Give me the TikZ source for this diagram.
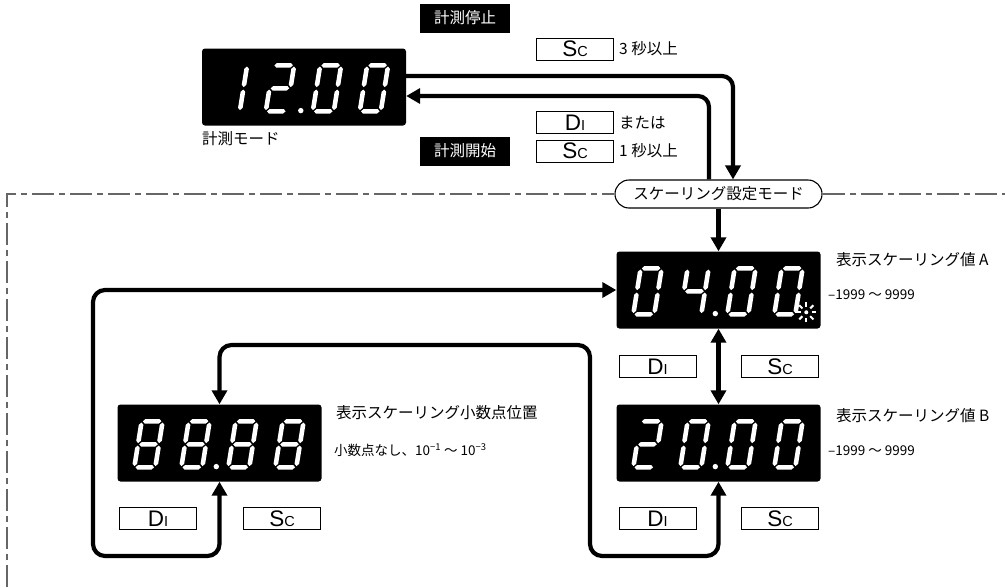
\documentclass[tikz,border=0pt]{standalone}
\usepackage{fontspec}
\setmainfont{Noto Sans CJK JP}
\newfontfamily\btnfont{Liberation Sans}
\usetikzlibrary{arrows.meta,calc}
\newcommand\jpfont{\fontsize{15.5}{18}\selectfont}
\newcommand\smfont{\fontsize{13.5}{15}\selectfont}
\newcommand\BtnDi{{\fontsize{22.5}{22}\selectfont D\fontsize{14.5}{14}\selectfont I}}
\newcommand\BtnSc{{\fontsize{22.5}{22}\selectfont S\fontsize{14.5}{14}\selectfont C}}
% seven-segment pieces (local frame, y up, W=21, H=46)
\def\zzsegA{\fill (1.2,46)--(3.5,48.3)--(17.5,48.3)--(19.8,46)--(17.5,43.7)--(3.5,43.7)--cycle;}
\def\zzsegG{\fill (1.2,23)--(3.5,25.3)--(17.5,25.3)--(19.8,23)--(17.5,20.7)--(3.5,20.7)--cycle;}
\def\zzsegD{\fill (1.2,0)--(3.5,2.3)--(17.5,2.3)--(19.8,0)--(17.5,-2.3)--(3.5,-2.3)--cycle;}
\def\zzsegF{\fill (0,24.2)--(2.3,26.5)--(2.3,42.5)--(0,44.8)--(-2.3,42.5)--(-2.3,26.5)--cycle;}
\def\zzsegE{\fill (0,1.2)--(2.3,3.5)--(2.3,19.5)--(0,21.8)--(-2.3,19.5)--(-2.3,3.5)--cycle;}
\def\zzsegB{\fill (21,24.2)--(23.3,26.5)--(23.3,42.5)--(21,44.8)--(18.7,42.5)--(18.7,26.5)--cycle;}
\def\zzsegC{\fill (21,1.2)--(23.3,3.5)--(23.3,19.5)--(21,21.8)--(18.7,19.5)--(18.7,3.5)--cycle;}
\newcommand\sdig[3]{\begin{scope}[shift={(#1,#2)},x=1pt,y=1pt,xslant=0.16,fill=white]\foreach \s in {#3}{\csname zzseg\s\endcsname}\end{scope}}
\newcommand\dispnum[5]{%
  \begin{scope}[shift={(#1.north west)}]
    \sdig{17}{63}{#2}\sdig{64}{63}{#3}\sdig{111}{63}{#4}\sdig{158}{63}{#5}
    \fill[white] (99,62.3) circle (2.7pt);
  \end{scope}}
\begin{document}
\begin{tikzpicture}[x=1pt,y=-1pt,
  disp/.style={fill=black, rounded corners=3pt, minimum width=204pt, minimum height=77pt, inner sep=0pt},
  btn/.style={draw=black, line width=0.9pt, fill=white, minimum width=77pt, minimum height=22pt, inner sep=0pt, font=\btnfont},
  tag/.style={fill=black, text=white, minimum width=90pt, minimum height=29pt, inner sep=0pt, font=\jpfont},
  lbl/.style={anchor=west, inner sep=0pt, font=\jpfont},
  rng/.style={anchor=west, inner sep=0pt, font=\smfont},
  arr/.style={line width=4.2pt, rounded corners=11pt, -{Triangle[length=14pt,width=15pt]}},
  darr/.style={line width=4.2pt, rounded corners=12pt, {Triangle[length=14pt,width=15pt]}-{Triangle[length=14pt,width=15pt]}},
  border/.style={draw=black!60, line width=1.3pt, dash pattern=on 22pt off 5pt on 6pt off 5pt},
  pill/.style={draw=black, line width=1.1pt, fill=white, rounded corners=14pt, minimum width=207pt, minimum height=28pt, inner sep=0pt, font=\jpfont}
]
\useasboundingbox (0,0) rectangle (1005,587);

% displays
\node[disp] (d1) at (304,87) {};
\node[disp] (A) at (718.5,290) {};
\node[disp] (B) at (718.5,443) {};
\node[disp] (C) at (219.5,443) {};
\dispnum{d1}{B,C}{A,B,G,E,D}{A,B,C,D,E,F}{A,B,C,D,E,F}
\dispnum{A}{A,B,C,D,E,F}{F,G,B,C}{A,B,C,D,E,F}{A,B,C,D,E,F}
\dispnum{B}{A,B,G,E,D}{A,B,C,D,E,F}{A,B,C,D,E,F}{A,B,C,D,E,F}
\dispnum{C}{A,B,C,D,E,F,G}{A,B,C,D,E,F,G}{A,B,C,D,E,F,G}{A,B,C,D,E,F,G}
% blinking mark on A
\begin{scope}[shift={(A.north west)}]
  \fill[white] (190,61) circle (2pt);
  \foreach \a in {0,45,...,315}
    \draw[white, line width=2pt] (190,61) ++(\a:5.5) -- ++(\a:4.5);
\end{scope}

% mode pill and border
\node[pill] (mode) at (718.5,194) {スケーリング設定モード};
\coordinate (bl) at (7,587);
\coordinate (tl) at (7,194);
\coordinate (tr) at (1005,194);
\draw[border] (bl) -- (tl) -- (mode.west);
\draw[border] (mode.east) -- (tr);

% labels
\node[lbl] (lm) at (202,139) {計測モード};
\node[tag] (stop) at (465,18) {計測停止};
\node[tag] (start) at (465,151) {計測開始};
\node[btn] (sc1) at (575,49) {\BtnSc};
\node[lbl] (t3) at (619,49) {3 秒以上};
\node[btn] (di1) at (575,122.5) {\BtnDi};
\node[lbl] (tm) at (619,122.5) {または};
\node[btn] (sc2) at (575,151) {\BtnSc};
\node[lbl] (t1) at (619,151) {1 秒以上};

\node[lbl] (la) at (836,260) {表示スケーリング値 A};
\node[rng] (ra) at (828,295) {–1999 ～ 9999};
\node[lbl] (lb) at (836,416) {表示スケーリング値 B};
\node[rng] (rb) at (828,451) {–1999 ～ 9999};
\node[lbl] (lc) at (336,413) {表示スケーリング小数点位置};
\node[rng] (rc) at (334,450) {小数点なし、10\textsuperscript{−1} ～ 10\textsuperscript{−3}};

% buttons
\node[btn] (diab) at (657.5,366.5) {\BtnDi};
\node[btn] (scab) at (780,366.5) {\BtnSc};
\node[btn] (dib) at (657.5,518.5) {\BtnDi};
\node[btn] (scb) at (780,518.5) {\BtnSc};
\node[btn] (dic) at (158,518.5) {\BtnDi};
\node[btn] (scc) at (282,518.5) {\BtnSc};

% connectors
\draw[arr] ($(d1.east)+(0,-11)$) -| ($(mode.north)+(14.5,0)$);
\draw[arr] ($(mode.north)+(-9.5,0)$) |- ($(d1.east)+(0,9)$);
\draw[arr] (mode.south) -- (A.north);
\draw[darr] (A.south) -- (B.north);
\coordinate (r1) at (590,345);
\coordinate (r2) at (590,556);
\draw[darr] (C.north) |- (r1) -- (r2) -| (B.south);
\coordinate (l1) at (93,556);
\coordinate (l2) at (93,290);
\draw[darr] (C.south) |- (l1) -- (l2) -- (A.west);
\end{tikzpicture}
\end{document}
